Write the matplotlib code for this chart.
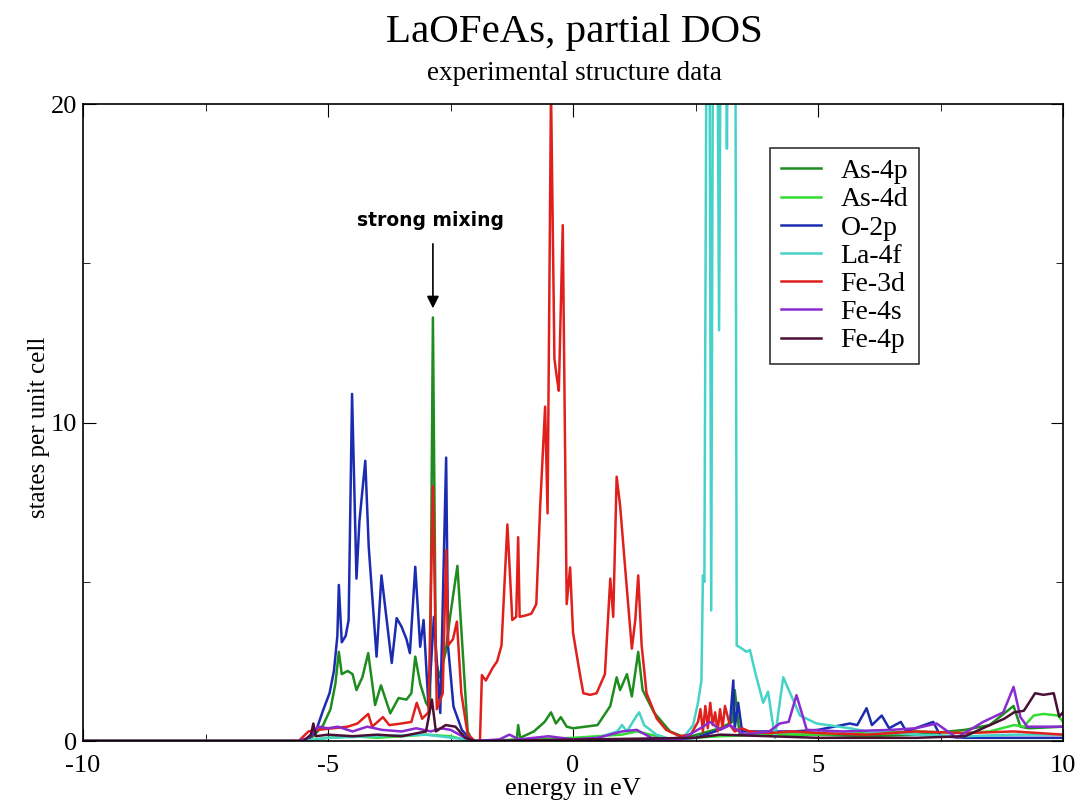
import numpy as np
import matplotlib.pyplot as plt
from matplotlib.ticker import MultipleLocator

# energies (eV) and DOS values, one pair of lists per orbital
as4p_e = [-10, -5.5, -5.3, -5.1, -4.95, -4.85, -4.78, -4.72, -4.6, -4.5, -4.42, -4.3, -4.18, -4.04,
          -3.92, -3.73, -3.56, -3.4, -3.3, -3.22, -3.12, -3.0, -2.92, -2.86, -2.80, -2.72, -2.6,
          -2.51, -2.36, -2.28, -2.15, -2.05, -1.5, -1.15, -1.12, -1.08, -0.8, -0.58, -0.45, -0.35,
          -0.25, -0.13, 0.0, 0.5, 0.76, 0.89, 0.96, 1.1, 1.2, 1.33, 1.42, 1.65, 1.98, 2.3, 3.0,
          3.25, 3.3, 3.4, 4, 5, 6, 7, 8, 8.5, 8.99, 9.13, 9.3, 10]
as4p_v = [0, 0, 0.15, 0.5, 1.0, 1.8, 2.8, 2.1, 2.2, 2.1, 1.6, 2.0, 2.76, 1.13,
          1.75, 0.87, 1.35, 1.3, 1.5, 2.65, 1.8, 1.2, 1.0, 13.3, 2.5, 2.0, 2.8,
          3.9, 5.5, 3.5, 0.3, 0, 0, 0.05, 0.5, 0.1, 0.3, 0.6, 0.9, 0.55,
          0.75, 0.45, 0.4, 0.5, 1.1, 2.0, 1.6, 2.1, 1.4, 2.8, 1.6, 0.9, 0.3, 0.1, 0.4,
          0.6, 1.6, 0.2, 0.2, 0.2, 0.15, 0.2, 0.35, 0.5, 1.1, 0.45, 0.4, 0.45]

as4d_e = [-10, -5.5, -5.0, -4.5, -4.0, -3.5, -3.0, -2.5, -2.1, -1.0, 0.0, 1.0, 1.3, 2.0, 3.0,
          4.0, 5.0, 6.0, 7.0, 8.0, 8.5, 9.0, 9.2, 9.4, 9.6, 9.9, 10]
as4d_v = [0, 0, 0.1, 0.15, 0.1, 0.15, 0.2, 0.15, 0.0, 0.05, 0.1, 0.2, 0.3, 0.05, 0.15,
          0.2, 0.2, 0.25, 0.3, 0.25, 0.3, 0.5, 0.45, 0.8, 0.85, 0.8, 0.6]

o2p_e = [-10, -5.6, -5.45, -5.25, -5.1, -4.97, -4.88, -4.81, -4.78, -4.72, -4.64, -4.58, -4.51,
         -4.42, -4.36, -4.24, -4.17, -4.01, -3.91, -3.70, -3.60, -3.50, -3.40, -3.33, -3.22,
         -3.12, -3.05, -2.95, -2.84, -2.71, -2.59, -2.55, -2.44, -2.27, -2.1, -2.0, 0.0, 1.0,
         2.0, 2.5, 2.9, 3.2, 3.27, 3.3, 3.37, 3.45, 4.0, 4.5, 5.0, 5.65, 5.8, 5.99, 6.1, 6.3,
         6.45, 6.69, 6.8, 7.35, 7.5, 8.0, 9.0, 10]
o2p_v = [0, 0, 0, 0.3, 0.97, 1.5, 2.2, 3.3, 4.9, 3.1, 3.3, 3.8, 10.9,
         5.1, 6.9, 8.8, 6.1, 2.65, 5.2, 2.45, 3.86, 3.59, 3.2, 2.76, 5.47,
         2.96, 3.8, 1.08, 3.9, 0.88, 8.9, 2.96, 1.08, 0.35, 0.05, 0, 0.02, 0.05,
         0.05, 0.1, 0.3, 0.5, 1.9, 0.4, 1.2, 0.3, 0.3, 0.3, 0.35, 0.55, 0.5, 1.03, 0.5, 0.8,
         0.4, 0.6, 0.3, 0.6, 0.15, 0.1, 0.1, 0.1]

la4f_e = [-10, -5.5, -5.0, -4.0, -3.0, -2.2, -2.0, 0.0, 0.5, 0.9, 1.0, 1.1, 1.3, 1.35, 1.45,
          1.7, 2.0, 2.3, 2.45, 2.55, 2.62, 2.65, 2.68, 2.73, 2.78, 2.82, 2.86, 2.94, 2.98, 3.02,
          3.11, 3.14, 3.17, 3.31, 3.34, 3.45, 3.54, 3.61, 3.71, 3.88, 3.98, 4.12, 4.29, 4.46,
          4.63, 4.97, 5.65, 6.0, 7.0, 8.0, 9.0, 10]
la4f_v = [0, 0, 0.1, 0.15, 0.2, 0.05, 0, 0, 0.1, 0.3, 0.5, 0.3, 0.8, 0.9, 0.5,
          0.2, 0.05, 0.2, 0.5, 1.2, 1.9, 5.2, 5.0, 25, 25, 4.1, 25, 25, 12.9, 25,
          25, 18.6, 25, 25, 3.0, 2.9, 2.8, 2.86, 2.2, 1.2, 1.55, 0.1, 2.0, 1.4,
          0.8, 0.55, 0.4, 0.3, 0.2, 0.15, 0.2, 0.2]

fe3d_e = [-10, -5.6, -5.4, -5.2, -4.9, -4.6, -4.4, -4.18, -4.1, -3.88, -3.75, -3.5, -3.3, -3.19,
          -3.08, -2.95, -2.86, -2.78, -2.66, -2.59, -2.55, -2.45, -2.37, -2.28, -2.15, -2.0,
          -1.9, -1.86, -1.78, -1.64, -1.55, -1.46, -1.40, -1.34, -1.24, -1.16, -1.12, -1.09,
          -0.95, -0.85, -0.75, -0.67, -0.57, -0.52, -0.45, -0.38, -0.33, -0.29, -0.21, -0.13,
          -0.06, 0.0, 0.14, 0.21, 0.35, 0.48, 0.65, 0.76, 0.82, 0.89, 0.96, 1.06, 1.20, 1.27,
          1.33, 1.40, 1.5, 1.71, 1.9, 2.18, 2.4, 2.55, 2.6, 2.65, 2.7, 2.75, 2.8, 2.85, 2.9,
          2.95, 3.0, 3.05, 3.1, 3.2, 3.3, 3.45, 3.6, 4.0, 4.5, 5.0, 6.0, 7.0, 8.0, 9.0, 10]
fe3d_v = [0, 0, 0.3, 0.35, 0.4, 0.45, 0.55, 0.85, 0.45, 0.75, 0.5, 0.55, 0.6, 1.2,
          0.7, 0.9, 8.0, 1.0, 1.5, 6.0, 3.0, 3.2, 3.75, 1.5, 0.2, 0,
          0, 2.07, 1.9, 2.3, 2.5, 3.0, 4.9, 6.8, 3.8, 3.9, 6.4, 3.9,
          3.95, 4.0, 4.3, 7.4, 10.5, 7.15, 20.5, 12, 11.4, 11.0, 16.2, 4.3,
          5.45, 3.4, 2.1, 1.5, 1.45, 1.5, 2.1, 5.1, 3.9, 8.3, 7.4, 5.5, 2.9, 3.8,
          5.2, 3.0, 1.5, 0.7, 0.35, 0.15, 0.2, 0.6, 1.0, 0.3, 1.1, 0.4, 1.2, 0.5, 0.9,
          0.3, 1.0, 0.4, 1.1, 0.5, 0.3, 0.4, 0.3, 0.25, 0.3, 0.25, 0.2, 0.3, 0.25, 0.3, 0.2]

fe4s_e = [-10, -5.6, -5.4, -5.2, -5.0, -4.8, -4.5, -4.2, -3.9, -3.5, -3.2, -2.9, -2.7, -2.5,
          -2.2, -2.0, -1.5, -1.3, -1.1, -0.5, 0.0, 0.5, 1.0, 1.3, 1.6, 2.2, 2.6, 2.8, 3.0, 3.2,
          3.5, 4.0, 4.22, 4.4, 4.56, 4.77, 5.5, 6.5, 7.0, 7.42, 7.83, 8.37, 8.78, 8.99, 9.13,
          9.27, 10]
fe4s_v = [0, 0, 0.1, 0.45, 0.4, 0.45, 0.3, 0.45, 0.35, 0.3, 0.4, 0.3, 0.4, 0.35,
          0.1, 0, 0.05, 0.2, 0.05, 0.15, 0.05, 0.1, 0.3, 0.35, 0.1, 0.05, 0.4, 0.6, 0.35, 0.5,
          0.2, 0.3, 0.55, 0.6, 1.44, 0.35, 0.3, 0.35, 0.4, 0.55, 0.1, 0.6, 0.9, 1.7, 0.75,
          0.45, 0.45]

fe4p_e = [-10, -5.5, -5.35, -5.3, -5.25, -5.0, -4.5, -4.0, -3.5, -3.0, -2.88, -2.8, -2.6, -2.4,
          -2.2, -2.0, 2.5, 3.0, 4.0, 5.0, 7.0, 8.0, 8.8, 9.0, 9.2, 9.43, 9.6, 9.81, 9.92, 10]
fe4p_v = [0, 0, 0.2, 0.55, 0.15, 0.2, 0.15, 0.2, 0.15, 0.3, 1.3, 0.3, 0.5, 0.45,
          0.1, 0, 0.1, 0.2, 0.15, 0.1, 0.1, 0.15, 0.7, 0.9, 0.95, 1.5, 1.45, 1.5, 0.77, 0.9]

series = [
    ("As-4p", as4p_e, as4p_v, "#1f8c1f"),
    ("As-4d", as4d_e, as4d_v, "#33dd33"),
    ("O-2p", o2p_e, o2p_v, "#1c2cb0"),
    ("La-4f", la4f_e, la4f_v, "#45d3c8"),
    ("Fe-3d", fe3d_e, fe3d_v, "#e0201c"),
    ("Fe-4s", fe4s_e, fe4s_v, "#8a2bd0"),
    ("Fe-4p", fe4p_e, fe4p_v, "#4a1034"),
]

serif = ["Liberation Serif", "DejaVu Serif"]

fig = plt.figure(figsize=(10.8, 8.01), dpi=100)
ax = fig.add_axes([0.0769, 0.0749, 0.9074, 0.7951])

for name, e, v, c in series:
    ax.plot(e, v, color=c, lw=1.8, label=name)

ax.set_xlim(-10, 10)
ax.set_ylim(0, 20)
ax.xaxis.set_major_locator(MultipleLocator(5))
ax.xaxis.set_minor_locator(MultipleLocator(2.5))
ax.yaxis.set_major_locator(MultipleLocator(10))
ax.yaxis.set_minor_locator(MultipleLocator(5))
ax.tick_params(which="both", direction="in", top=True, right=True)
ax.tick_params(which="major", length=9)
ax.tick_params(which="minor", length=5)
ax.tick_params(axis="x", which="major", labelsize=19, pad=10)
ax.tick_params(axis="y", which="major", labelsize=19, pad=4)
ax.set_xticks([-10, -5, 0, 5, 10])
ax.set_xticklabels(["-10", "-5", "0", "5", "10"], family=serif)
ax.set_yticks([0, 10, 20])
ax.set_yticklabels(["0", "10", "20"], family=serif)
for sp in ax.spines.values():
    sp.set_linewidth(1.2)

ax.set_xlabel("energy in eV", family=serif, fontsize=19)
ax.xaxis.set_label_coords(0.5, -0.058)
ax.set_ylabel("states per unit cell", family=serif, fontsize=18)
ax.yaxis.set_label_coords(-0.034, 0.493)

fig.text(0.532, 0.9476, "LaOFeAs, partial DOS", family=serif, fontsize=29.5,
         ha="center", va="baseline")
fig.text(0.532, 0.900, "experimental structure data", family=serif, fontsize=19.5,
         ha="center", va="baseline")

ax.annotate("", xy=(-2.86, 13.5), xytext=(-2.86, 15.7),
            arrowprops=dict(arrowstyle="-|>", color="black", lw=1.2, mutation_scale=18))
ax.text(-2.9, 16.17, "strong mixing", fontsize=13.5, ha="center", va="baseline",
        fontweight="semibold", family="DejaVu Sans")

leg = ax.legend(loc="upper left", bbox_to_anchor=(0.701, 0.931),
                prop={"family": serif, "size": 20},
                frameon=True, fancybox=False, edgecolor="black", handlelength=1.44,
                labelspacing=0.1, borderpad=0.38, handletextpad=0.72, borderaxespad=0)
leg.get_frame().set_linewidth(1.2)

fig.savefig("out.png", dpi=100)
